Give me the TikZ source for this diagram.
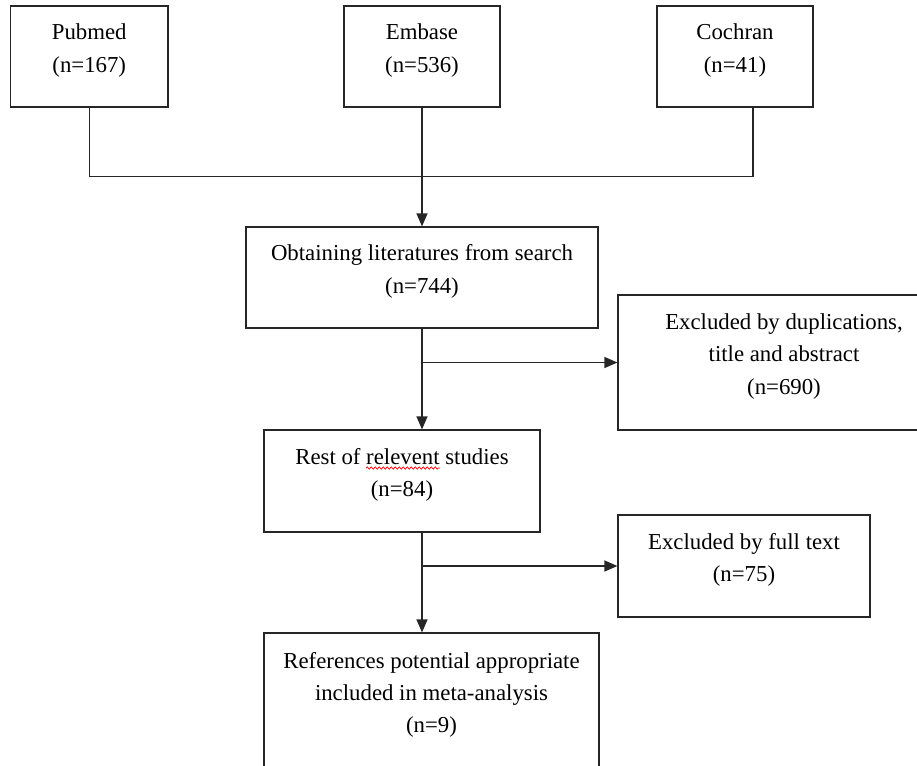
\documentclass[tikz,border=0pt]{standalone}
\usepackage{fontspec}
\setmainfont{Liberation Serif}
\usetikzlibrary{arrows.meta, decorations.pathmorphing}

% extra depth under the last line, so the text sits a little above the middle
\newcommand{\lowfill}{\rule[-8.5pt]{0pt}{8.5pt}}

\begin{document}
\begin{tikzpicture}[x=0.5pt, y=-0.5pt,
    box/.style={draw=black!85, line width=0.6pt, align=center, inner sep=0pt,
      font=\fontsize{11.4}{16.2}\selectfont},
    size/.style 2 args={minimum width=#1*0.5pt, minimum height=#2*0.5pt},
    link/.style={draw=black!85, line width=0.6pt},
    arr/.style={-{Triangle[length=6.5pt, width=5.5pt]}},
    spellmark/.style={draw=red, line width=0.35pt, decorate,
      decoration={snake, segment length=2pt, amplitude=0.6pt}}]
    \useasboundingbox (0,0) rectangle (917,766);
    \clip (0,0) rectangle (917,766);

    % sources
    \node[box, size={157.5}{101}] (pubmed) at (89.25,56.5) {Pubmed\\(n=167)\lowfill};
    \node[box, size={156}{101}] (embase) at (422,56.5) {Embase\\(n=536)\lowfill};
    \node[box, size={156}{101}] (cochran) at (735,56.5) {Cochran\\(n=41)\lowfill};

    % main column
    \node[box, size={352}{101}] (obtain) at (422,277.5)
        {Obtaining literatures from search\\(n=744)\lowfill};
    \node[box, size={276}{102}] (rest) at (402,481)
        {Rest of relevent studies\\(n=84)\lowfill};
    \node[box, size={335}{136}] (refs) at (431.5,701)
        {References potential appropriate\\included in meta-analysis\\(n=9)\lowfill};

    % exclusions
    \node[box, size={332}{135}] (dup) at (784,362.5)
        {Excluded by duplications,\\title and abstract\\(n=690)\lowfill};
    \node[box, size={252}{102}] (full) at (744,566)
        {Excluded by full text\\(n=75)\lowfill};

    \draw[link] (pubmed.south) -- ++(0,69) -| ([xshift=9pt]cochran.south);
    \draw[link, arr] (embase.south) -- (obtain.north);
    \draw[link, arr] (obtain.south) -- (obtain.south |- rest.north);
    \draw[link, arr] (obtain.south |- dup.west) -- (dup.west);
    \draw[link, arr] (rest.south -| obtain.south) -- (obtain.south |- refs.north);
    \draw[link, arr] (obtain.south |- full.west) -- (full.west);

    % spell-check mark under "relevent"
    \path[spellmark] ([shift={(-36,-13)}]rest.center) -- ([shift={(38,-13)}]rest.center);
\end{tikzpicture}
\end{document}
